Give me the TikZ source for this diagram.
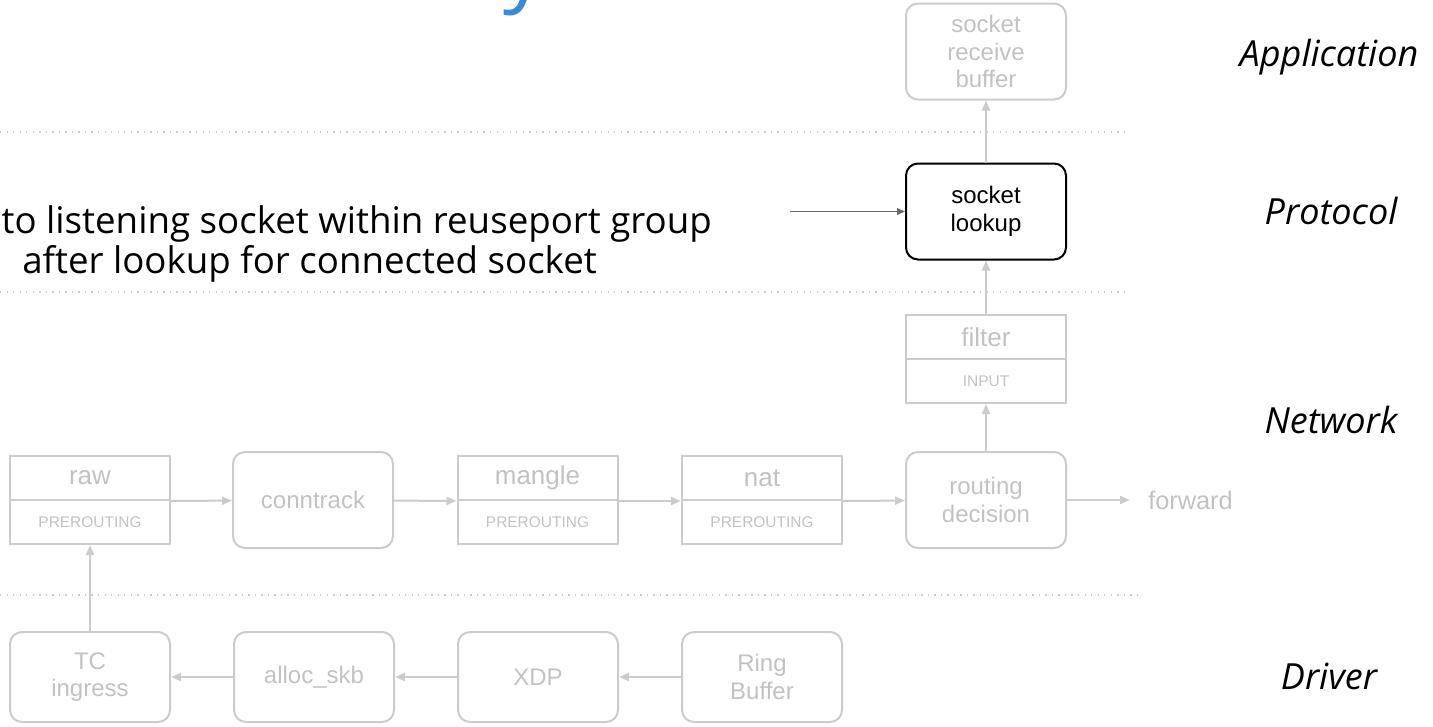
\documentclass[tikz,border=0pt]{standalone}
\usepackage{fontspec}
\setmainfont{Liberation Sans}
\newfontfamily\opensans{Open Sans}
\usetikzlibrary{arrows.meta}

\definecolor{boxgray}{HTML}{CCCCCC}
\definecolor{txtgray}{HTML}{C2C2C2}
\definecolor{notegray}{HTML}{666666}
\definecolor{titleblue}{HTML}{3D8AD0}

\tikzset{
  box/.style={draw=boxgray, line width=1.5pt, minimum width=120pt, minimum height=72pt,
    inner sep=0pt, align=center, text=txtgray, font=\fontsize{18}{20.7}\selectfont},
  roundbox/.style={box, rounded corners=9pt},
  hotbox/.style={roundbox, draw=black, text=black},
  drvbox/.style={roundbox, minimum height=67.5pt},
  tabletop/.style={box, minimum height=33pt, font=\fontsize{19.5}{22}\selectfont},
  tablebot/.style={box, minimum height=33pt, font=\fontsize{11.6}{13}\selectfont},
  flow/.style={draw=boxgray, line width=1.5pt, -{Triangle[length=7.5pt,width=6pt]}},
  noteflow/.style={draw=notegray, line width=1.1pt, -{Triangle[length=6pt,width=5pt]}},
  layersep/.style={draw=boxgray, line width=1.1pt, dash pattern=on 1pt off 3.9pt},
  layer/.style={anchor=base, inner sep=0pt, font=\opensans\itshape\fontsize{27}{31}\selectfont},
  note/.style={inner sep=0pt, font=\opensans\fontsize{27.5}{32}\selectfont},
  outlabel/.style={anchor=west, inner ysep=0pt, inner xsep=13.5pt, text=txtgray,
    font=\fontsize{19}{21}\selectfont},
}

\begin{document}
\begin{tikzpicture}[x=0.75pt, y=-0.75pt]
\useasboundingbox (0,0) rectangle (1433,726);

\begin{scope}
\clip (0,0) rectangle (1433,726);
% tail of the slide heading above the page
\node[anchor=base west, inner sep=0pt, text=titleblue,
      font=\opensans\fontsize{64}{70}\selectfont] (heading) at (503,-5) {y};

% layer separators
\coordinate (s1a) at (0,132);  \coordinate (s1b) at (1125,132);
\coordinate (s2a) at (0,292);  \coordinate (s2b) at (1125,292);
\coordinate (s3a) at (0,595);  \coordinate (s3b) at (1140,595);
\draw[layersep] (s1a) -- (s1b);
\draw[layersep] (s2a) -- (s2b);
\draw[layersep] (s3a) -- (s3b);

% application / protocol
\node[roundbox] (recv) at (986,51.5) {socket\\receive\\buffer};
\node[hotbox] (lookup) at (986,211.5) {socket\\lookup};

% network
\node[tabletop] (filterT) at (986,337) {filter};
\node[tablebot] (filterB) at (986,381) {INPUT};
\node[roundbox] (routing) at (986,500) {routing\\decision};
\node[outlabel] (fwd) at (1130,500) {forward};

\node[tabletop] (rawT) at (90,478) {raw};
\node[tablebot] (rawB) at (90,522) {PREROUTING};
\node[roundbox] (conntrack) at (313,500) {conntrack};
\node[tabletop] (mangleT) at (537.5,478) {mangle};
\node[tablebot] (mangleB) at (537.5,522) {PREROUTING};
\node[tabletop] (natT) at (762,478) {nat};
\node[tablebot] (natB) at (762,522) {PREROUTING};

% driver
\node[drvbox] (tc) at (90,677) {TC\\ingress};
\node[drvbox] (alloc) at (314,677) {alloc\_skb};
\node[drvbox] (xdp) at (538,677) {XDP};
\node[drvbox] (ring) at (762,677) {Ring\\Buffer};

% packet path
\draw[flow] (ring) -- (xdp);
\draw[flow] (xdp) -- (alloc);
\draw[flow] (alloc) -- (tc);
\draw[flow] (tc) -- (rawB);
\draw[flow] (rawT.south east) -- (conntrack);
\draw[flow] (conntrack) -- (mangleT.south west);
\draw[flow] (mangleT.south east) -- (natT.south west);
\draw[flow] (natT.south east) -- (routing);
\draw[flow] (routing) -- (fwd);
\draw[flow] (routing) -- (filterB);
\draw[flow] (filterT) -- (lookup);
\draw[flow] (lookup) -- (recv);

% annotation
\node[note, anchor=base east] (note1) at (712,233) {to listening socket within reuseport group};
\node[note, anchor=base west] (note2) at (22,273) {after lookup for connected socket};
\coordinate (noteTail) at (790,211.5);
\draw[noteflow] (noteTail) -- (lookup);

% layer names
\node[layer] (lApp) at (1329,66) {Application};
\node[layer] (lProto) at (1331,224) {Protocol};
\node[layer] (lNet) at (1331,433) {Network};
\node[layer] (lDrv) at (1329,689) {Driver};
\end{scope}
\end{tikzpicture}
\end{document}
